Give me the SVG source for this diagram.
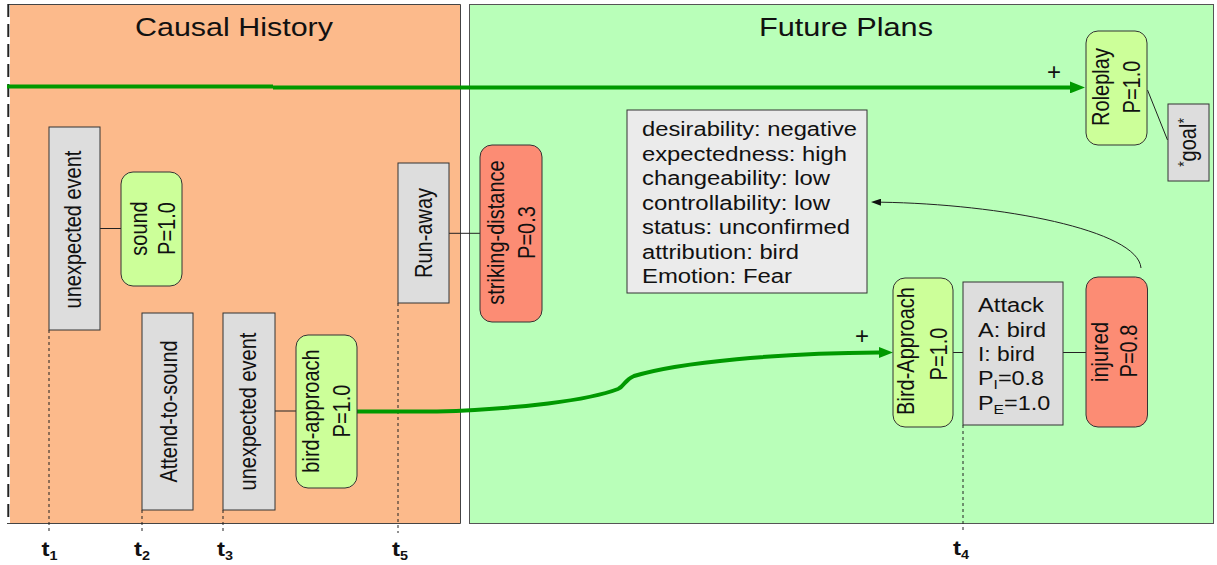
<svg xmlns="http://www.w3.org/2000/svg" width="1217" height="565" viewBox="0 0 1217 565">
<style>
text{font-family:"Liberation Sans",Arial,sans-serif;fill:#111}
.n{font-size:20px}
.h{font-size:19.5px}
.title{font-size:26px}
.tl{font-size:20px;font-weight:bold}
.sub{font-size:12px;font-weight:bold}
.box{fill:#DDDDDD;stroke:#333;stroke-width:1}
.attr{fill:#EBEBEB;stroke:#333;stroke-width:1}
.ok{fill:#CCFF99;stroke:#333;stroke-width:1}
.bad{fill:#FC8C74;stroke:#333;stroke-width:1}
.thin{fill:none;stroke:#222;stroke-width:1}
.time{fill:none;stroke:#222;stroke-width:1;stroke-dasharray:3,3}
.gr{fill:none;stroke:#009900;stroke-width:4}
</style>
<defs>
<marker id="ag" markerUnits="userSpaceOnUse" markerWidth="15" markerHeight="12" refX="0" refY="6" orient="auto" viewBox="0 0 15 12"><path d="M0,0 L15,6 L0,12 z" fill="#009900"/></marker>
<marker id="ag2" markerUnits="userSpaceOnUse" markerWidth="14" markerHeight="11" refX="0" refY="5.5" orient="auto" viewBox="0 0 14 11"><path d="M0,0 L14,5.5 L0,11 z" fill="#009900"/></marker>
<marker id="ab" markerUnits="userSpaceOnUse" markerWidth="10" markerHeight="7" refX="0" refY="3.5" orient="auto" viewBox="0 0 10 7"><path d="M0,0 L10,3.5 L0,7 z" fill="#111"/></marker>
</defs>

<g id="panel-causal-history">
<rect x="10" y="4" width="450.5" height="519.5" fill="#FCBA8B"/>
<path d="M8,4.5 H460.5 V523.5 H7" fill="none" stroke="#444" stroke-width="1"/>
<line x1="8.3" y1="4" x2="8.3" y2="524" stroke="#222" stroke-width="2" stroke-dasharray="13,7"/>
<text class="title" x="135" y="36" textLength="198" lengthAdjust="spacingAndGlyphs">Causal History</text>
</g>
<g id="panel-future-plans">
<rect x="469.5" y="4.5" width="744" height="519" fill="#B9FFB9" stroke="#555" stroke-width="1"/>
<text class="title" x="759" y="35.5" textLength="174" lengthAdjust="spacingAndGlyphs">Future Plans</text>
</g>

<g id="timeline">
<path class="time" d="M49,330 V533 M142,510 V533 M223,510 V533 M398,303 V533 M963,425 V532"/>
<text class="tl" transform="translate(41.5,556) scale(1.2,1)">t<tspan class="sub" dy="4">1</tspan></text>
<text class="tl" transform="translate(134,556) scale(1.2,1)">t<tspan class="sub" dy="4">2</tspan></text>
<text class="tl" transform="translate(217,556) scale(1.2,1)">t<tspan class="sub" dy="4">3</tspan></text>
<text class="tl" transform="translate(392,556) scale(1.2,1)">t<tspan class="sub" dy="4">5</tspan></text>
<text class="tl" transform="translate(953,555) scale(1.2,1)">t<tspan class="sub" dy="4">4</tspan></text>
</g>

<g id="connectors">
<path class="gr" d="M7,86.6 H273 M273,87.4 H1070" marker-end="url(#ag)"/>
<text x="1054" y="80" text-anchor="middle" font-size="24">+</text>
<path class="gr" d="M357,411.5 H437 C520,409 590,400 618,389 C625,386 624,380 634,376 C680,362 780,353 879,352.5" marker-end="url(#ag2)"/>
<text x="862" y="344" text-anchor="middle" font-size="24">+</text>
<path class="thin" d="M1141,268 C1138,230 1000,204 881,202.2" marker-end="url(#ab)"/>
<path class="thin" d="M100,228.5 H121"/>
<path class="thin" d="M275,411 H296"/>
<path class="thin" d="M449,233.3 H480"/>
<path class="thin" d="M953,352.5 H963"/>
<path class="thin" d="M1063,352.5 H1086"/>
<path class="thin" d="M1147.5,90 L1167.5,140"/>
</g>

<g id="unexpected-event-1">
<rect class="box" x="49" y="127" width="51" height="203"/>
<text class="n" transform="translate(81,229.5) scale(1.2,1) rotate(-90)" text-anchor="middle">unexpected event</text>
</g>
<g id="sound">
<rect class="ok" x="121" y="172" width="61" height="114" rx="12"/>
<text class="n" transform="translate(147,228.5) scale(1.2,1) rotate(-90)" text-anchor="middle">sound</text>
<text class="n" transform="translate(175,228.5) scale(1.2,1) rotate(-90)" text-anchor="middle">P=1.0</text>
</g>
<g id="attend-to-sound">
<rect class="box" x="142" y="313" width="51" height="197"/>
<text class="n" transform="translate(177,411.5) scale(1.2,1) rotate(-90)" text-anchor="middle">Attend-to-sound</text>
</g>
<g id="unexpected-event-2">
<rect class="box" x="223" y="313" width="52" height="197"/>
<text class="n" transform="translate(256,411.5) scale(1.2,1) rotate(-90)" text-anchor="middle">unexpected event</text>
</g>
<g id="bird-approach">
<rect class="ok" x="296" y="335" width="61" height="153" rx="12"/>
<text class="n" transform="translate(319,411) scale(1.2,1) rotate(-90)" text-anchor="middle">bird-approach</text>
<text class="n" transform="translate(350,411) scale(1.2,1) rotate(-90)" text-anchor="middle">P=1.0</text>
</g>
<g id="run-away">
<rect class="box" x="398" y="163" width="51" height="140"/>
<text class="n" transform="translate(432,233) scale(1.2,1) rotate(-90)" text-anchor="middle">Run-away</text>
</g>
<g id="striking-distance">
<rect class="bad" x="480" y="145" width="62" height="177" rx="12"/>
<text class="n" transform="translate(504,232.5) scale(1.2,1) rotate(-90)" text-anchor="middle">striking-distance</text>
<text class="n" transform="translate(535,232.5) scale(1.2,1) rotate(-90)" text-anchor="middle">P=0.3</text>
</g>
<g id="appraisal">
<rect class="attr" x="627" y="110" width="240" height="183"/>
<text class="h" x="642" y="136" textLength="215" lengthAdjust="spacingAndGlyphs">desirability: negative</text>
<text class="h" x="642" y="160.5" textLength="205" lengthAdjust="spacingAndGlyphs">expectedness: high</text>
<text class="h" x="642" y="185" textLength="188" lengthAdjust="spacingAndGlyphs">changeability: low</text>
<text class="h" x="642" y="209.5" textLength="188" lengthAdjust="spacingAndGlyphs">controllability: low</text>
<text class="h" x="642" y="234" textLength="208" lengthAdjust="spacingAndGlyphs">status: unconfirmed</text>
<text class="h" x="642" y="258.5" textLength="157" lengthAdjust="spacingAndGlyphs">attribution: bird</text>
<text class="h" x="642" y="283" textLength="150" lengthAdjust="spacingAndGlyphs">Emotion: Fear</text>
</g>
<g id="roleplay">
<rect class="ok" x="1086" y="31" width="61" height="114" rx="12"/>
<text class="n" transform="translate(1109,87) scale(1.2,1) rotate(-90)" text-anchor="middle">Roleplay</text>
<text class="n" transform="translate(1140,87) scale(1.2,1) rotate(-90)" text-anchor="middle">P=1.0</text>
</g>
<g id="goal">
<rect class="box" x="1168" y="104" width="41" height="77"/>
<text class="n" transform="translate(1196,142.5) scale(1.2,1) rotate(-90)" text-anchor="middle"><tspan font-size="14" dy="-5">*</tspan><tspan dy="5">goal</tspan><tspan font-size="14" dy="-5">*</tspan></text>
</g>
<g id="bird-approach-future">
<rect class="ok" x="893" y="278" width="60" height="149" rx="12"/>
<text class="n" transform="translate(914,351) scale(1.2,1) rotate(-90)" text-anchor="middle">Bird-Approach</text>
<text class="n" transform="translate(947,354) scale(1.2,1) rotate(-90)" text-anchor="middle">P=1.0</text>
</g>
<g id="attack">
<rect class="box" x="963" y="282" width="100" height="143"/>
<text class="h" x="978" y="311.5" textLength="66" lengthAdjust="spacingAndGlyphs">Attack</text>
<text class="h" x="978" y="336.5" textLength="68" lengthAdjust="spacingAndGlyphs">A: bird</text>
<text class="h" x="978" y="361" textLength="57" lengthAdjust="spacingAndGlyphs">I: bird</text>
<text class="h" transform="translate(978,385) scale(1.2,1)">P<tspan font-size="13" dy="4">I</tspan><tspan dy="-4">=0.8</tspan></text>
<text class="h" transform="translate(978,409.5) scale(1.2,1)">P<tspan font-size="13" dy="4">E</tspan><tspan dy="-4">=1.0</tspan></text>
</g>
<g id="injured">
<rect class="bad" x="1086" y="277" width="61.5" height="150" rx="12"/>
<text class="n" transform="translate(1108,352) scale(1.2,1) rotate(-90)" text-anchor="middle">injured</text>
<text class="n" transform="translate(1137,351) scale(1.2,1) rotate(-90)" text-anchor="middle">P=0.8</text>
</g>
</svg>
